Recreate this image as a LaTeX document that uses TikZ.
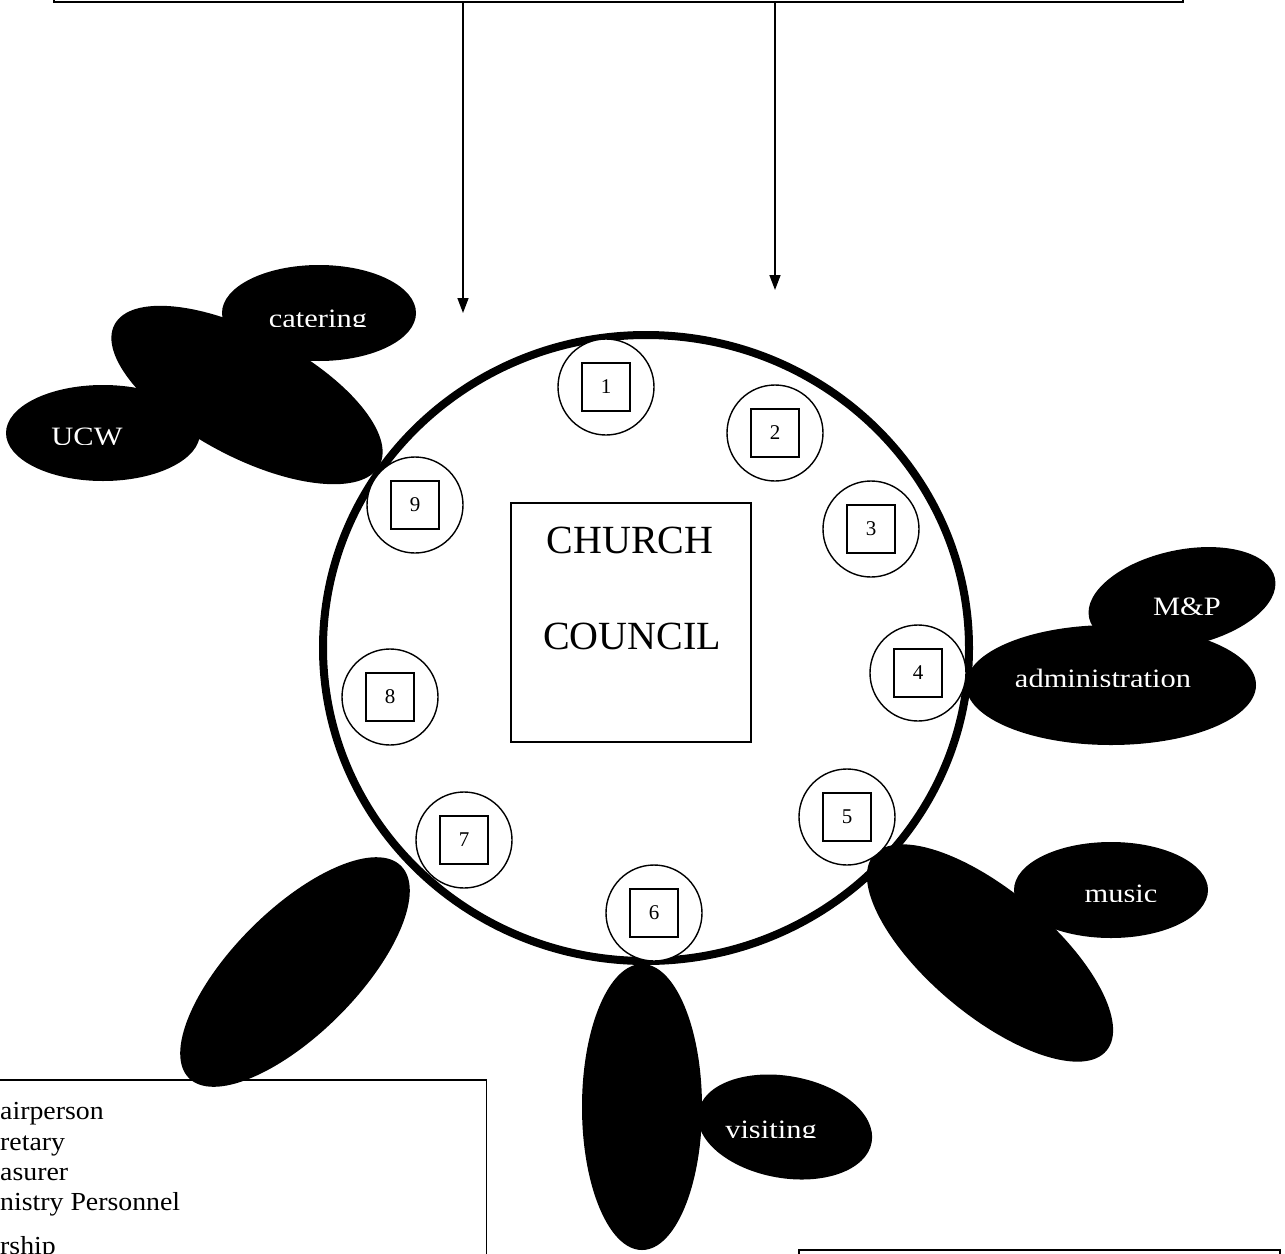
\documentclass[tikz,border=0pt]{standalone}
\usepackage{fontspec}
\setmainfont{Liberation Serif}
\newfontfamily\lblfont[FakeStretch=1.15]{Liberation Serif}
\newfontfamily\legfont[FakeStretch=1.07]{Liberation Serif}
\usetikzlibrary{arrows.meta}
\begin{document}
\begin{tikzpicture}[x=1pt,y=-1pt,
  blob/.style={fill=black},
  seat/.style={circle, draw, fill=white, line width=1.4pt, minimum size=96pt, inner sep=0pt},
  seatbox/.style={draw, fill=white, line width=1.4pt, minimum size=48pt, inner sep=0pt, font=\fontsize{21}{25}\selectfont},
  lbl/.style={text=white, anchor=base, inner sep=0pt, font=\lblfont\fontsize{26.5}{30}\selectfont},
  big/.style={anchor=base, inner sep=0pt, font=\fontsize{40}{48}\selectfont},
  legtext/.style={anchor=base west, inner sep=0pt, font=\legfont\fontsize{26}{30}\selectfont},
  frame/.style={draw, line width=1.5pt, inner sep=0pt},
  arr/.style={line width=1.5pt, -{Triangle[length=15pt,width=11pt]}}
]
\clip (0,0) rectangle (1285,1253);
\fill[white] (0,0) rectangle (1285,1253);

% top box and arrows
\node[frame, line width=2.5pt, minimum width=1129pt, minimum height=62pt] (top) at (618.5,-29) {};
\coordinate (tipL) at (463,313);
\coordinate (tipR) at (775,290);
\draw[arr] (top.south -| tipL) -- (tipL);
\draw[arr] (top.south -| tipR) -- (tipR);

% black blobs
\fill[blob, rotate around={-28:(247,395)}] (247,395) ellipse [x radius=150, y radius=62];
\fill[blob] (319,313) ellipse [x radius=97, y radius=48];
\fill[blob] (103,433) ellipse [x radius=97, y radius=48];
\fill[blob, rotate around={12:(1182,598)}] (1182,598) ellipse [x radius=95, y radius=48];
\fill[blob] (1111,685) ellipse [x radius=145, y radius=60];
\fill[blob, rotate around={-40:(990,953)}] (990,953) ellipse [x radius=152, y radius=62];
\fill[blob] (1111,890) ellipse [x radius=97, y radius=48];
\fill[blob, rotate around={45:(295,972)}] (295,972) ellipse [x radius=150, y radius=62];
\fill[blob] (642,1107) ellipse [x radius=60, y radius=143];
\fill[blob, rotate around={-10:(785,1127)}] (785,1127) ellipse [x radius=88, y radius=51];

% labels (clipped at the baseline as in the reference)
\begin{scope}\clip (198,280) rectangle (438,326);
\node[lbl] (catering) at (318,327) {catering};\end{scope}
\begin{scope}\clip (0,400) rectangle (200,444);
\node[lbl] (ucw) at (87,445) {UCW};\end{scope}
\begin{scope}\clip (1080,570) rectangle (1285,614);
\node[lbl] (mp) at (1187,615) {M\&P};\end{scope}
\begin{scope}\clip (980,640) rectangle (1240,686);
\node[lbl] (admin) at (1103,687) {administration};\end{scope}
\begin{scope}\clip (1020,860) rectangle (1220,901);
\node[lbl] (music) at (1121,902) {music};\end{scope}
\begin{scope}\clip (690,1095) rectangle (860,1137);
\node[lbl] (visiting) at (771,1138) {visiting};\end{scope}

% council ring
\draw[line width=8pt] (646,648) ellipse [x radius=323, y radius=313];

% seats
\foreach \n/\px/\py in {1/606/387, 2/775/433, 3/871/529, 4/918/673, 5/847/817, 6/654/913, 7/464/840, 8/390/697, 9/415/505}{
  \node[seat] (s\n) at (\px,\py) {};
  \node[seatbox] (b\n) at (s\n) {\n};
}

% church council box
\node[frame, minimum width=240pt, minimum height=239pt] (council) at (631,622.5) {};
\node[big] (church) at (630,553) {CHURCH};
\node[big] (councilt) at (632,649) {COUNCIL};

% legend box
\node[frame, anchor=north east, minimum width=520pt, minimum height=250pt] (legend) at (487,1079) {};
\node[legtext] (l1) at (0,1119) {airperson};
\node[legtext] (l2) at (0,1150) {retary};
\node[legtext] (l3) at (0,1180) {asurer};
\node[legtext] (l4) at (0,1210) {nistry Personnel};
\node[legtext] (l5) at (0,1254) {rship};

% bottom right box
\node[frame, anchor=north west, minimum width=481pt, minimum height=100pt] (notes) at (798,1249) {};
\end{tikzpicture}
\end{document}
